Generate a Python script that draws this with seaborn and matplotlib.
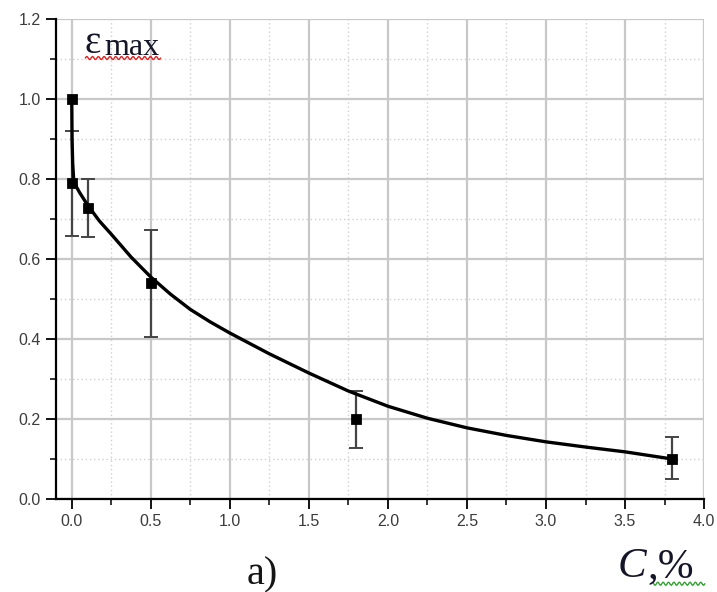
import numpy as np
import pandas as pd
import matplotlib
matplotlib.use("Agg")
import matplotlib.pyplot as plt
import seaborn as sns
from matplotlib.ticker import MultipleLocator, FormatStrFormatter
from matplotlib.lines import Line2D

# measured points (C, %) and error bar ends
pts_c = [0.0, 0.0, 0.1, 0.5, 1.8, 3.8]
pts_eps = [1.0, 0.79, 0.727, 0.54, 0.20, 0.10]
err_low = [np.nan, 0.657, 0.655, 0.405, 0.128, 0.05]
err_high = [np.nan, 0.92, 0.80, 0.672, 0.27, 0.155]

# fitted curve
fit_c = [0.0, 0.002, 0.006, 0.012, 0.03, 0.05, 0.1, 0.175, 0.25, 0.375, 0.5, 0.625,
         0.75, 0.875, 1.0, 1.25, 1.5, 1.75, 2.0, 2.25, 2.5, 2.75, 3.0, 3.25, 3.5, 3.8]
fit_eps = [1.0, 0.90, 0.84, 0.80, 0.78, 0.766, 0.735, 0.695, 0.662, 0.605, 0.555, 0.512,
           0.474, 0.443, 0.415, 0.363, 0.315, 0.27, 0.232, 0.202, 0.178, 0.159, 0.143,
           0.13, 0.118, 0.10]

sns.set_theme(style="white")

fig = plt.figure(figsize=(7.17, 5.92), dpi=100)
ax = fig.add_axes([0.078, 0.157, 0.904, 0.811])

pts = pd.DataFrame({"c": pts_c, "eps": pts_eps, "lo": err_low, "hi": err_high})
fit = pd.DataFrame({"c": fit_c, "eps": fit_eps})

# grid
ax.xaxis.set_major_locator(MultipleLocator(0.5))
ax.xaxis.set_minor_locator(MultipleLocator(0.25))
ax.yaxis.set_major_locator(MultipleLocator(0.2))
ax.yaxis.set_minor_locator(MultipleLocator(0.1))
ax.grid(which="major", color="#c8c8c8", linewidth=1.6, linestyle="-")
ax.grid(which="minor", color="#d0d0d0", linewidth=1.0, linestyle=(0, (1, 2)))
ax.set_axisbelow(True)

# error bars
yerr = np.vstack([pts["eps"] - pts["lo"], pts["hi"] - pts["eps"]])
ax.errorbar(pts["c"], pts["eps"], yerr=yerr, fmt="none", ecolor="#444444",
            elinewidth=1.6, capsize=5, capthick=1.4, zorder=3)

sns.lineplot(data=fit, x="c", y="eps", ax=ax, color="black", linewidth=2.4, zorder=4)
sns.scatterplot(data=pts, x="c", y="eps", ax=ax, marker="s", color="black",
                s=50, edgecolor="black", zorder=5)

ax.set_xlim(-0.1, 4.0)
ax.set_ylim(0.0, 1.2)
ax.set_xlabel("")
ax.set_ylabel("")

for side in ["top", "right"]:
    ax.spines[side].set_visible(False)
for side in ["left", "bottom"]:
    ax.spines[side].set_color("black")
    ax.spines[side].set_linewidth(1.6)

ax.tick_params(which="major", direction="out", length=7, width=1.3, color="black",
               labelsize=11.5, labelcolor="#3c3c3c", left=True, bottom=True, pad=4)
ax.tick_params(which="minor", direction="out", length=4, width=1.1, color="black",
               left=True, bottom=True)
ax.xaxis.set_major_formatter(FormatStrFormatter("%.1f"))
ax.yaxis.set_major_formatter(FormatStrFormatter("%.1f"))
for lab in ax.get_xticklabels() + ax.get_yticklabels():
    lab.set_family("Liberation Sans")

# labels
serif = "Liberation Serif"
fig.text(0.118, 0.910, "ε", fontsize=28, family=serif, color="#151528")
fig.text(0.146, 0.907, "max", fontsize=23, family=serif, color="#151528")
fig.text(0.344, 0.013, "a)", fontsize=29, family=serif, color="#151515")
fig.text(0.861, 0.025, "C", fontsize=31, family=serif, style="italic", color="#151528")
fig.text(0.903, 0.025, ",%", fontsize=31, family=serif, color="#151528")

# spell-check squiggles under the words
t = np.linspace(0, 1, 120)
fig.add_artist(Line2D(0.119 + 0.105 * t, 0.902 + 0.0025 * np.sin(t * 2 * np.pi * 13),
                      transform=fig.transFigure, color="#e02020", linewidth=1.0))
fig.add_artist(Line2D(0.908 + 0.075 * t, 0.014 + 0.0025 * np.sin(t * 2 * np.pi * 10),
                      transform=fig.transFigure, color="#30a030", linewidth=1.0))

fig.savefig("out.png", dpi=100)
